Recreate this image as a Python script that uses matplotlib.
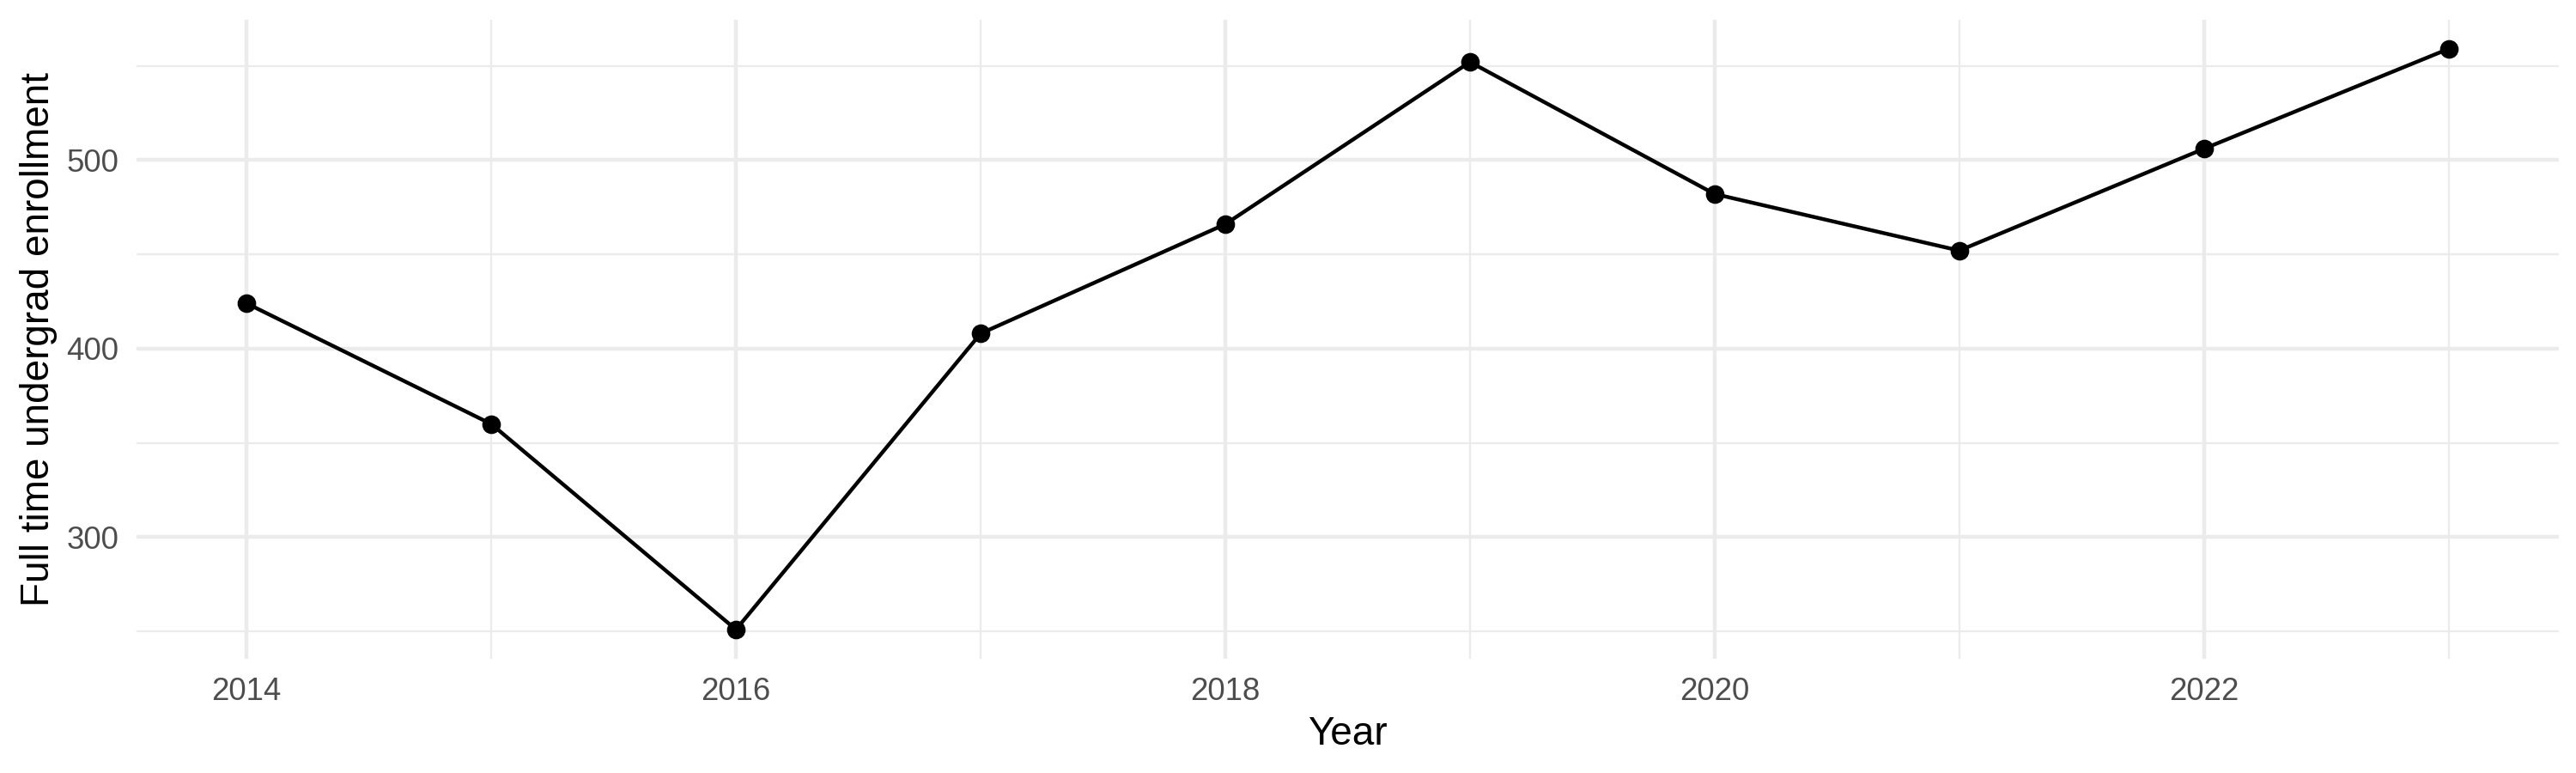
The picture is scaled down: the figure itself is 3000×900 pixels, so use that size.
import matplotlib
matplotlib.use("Agg")
import matplotlib.pyplot as plt
from matplotlib.ticker import MultipleLocator

years = [2014, 2015, 2016, 2017, 2018, 2019, 2020, 2021, 2022, 2023]
enrollment = [424, 360, 251, 408, 466, 552, 482, 452, 506, 559]
x_ticks = [2014, 2016, 2018, 2020, 2022]
y_ticks = [300, 400, 500]

plt.rcParams['font.family'] = ['Liberation Sans', 'DejaVu Sans']

fig = plt.figure(figsize=(10, 3), dpi=300)
ax = fig.add_axes([0.053, 0.148, 0.9403, 0.8264])

ax.plot(years, enrollment, color='black', linewidth=1.07, zorder=3)
ax.plot(years, enrollment, 'o', color='black', markersize=4.2, zorder=4)

span_x = max(years) - min(years)
ax.set_xlim(min(years) - 0.05 * span_x, max(years) + 0.05 * span_x)
span_y = max(enrollment) - min(enrollment)
ax.set_ylim(min(enrollment) - 0.05 * span_y, max(enrollment) + 0.05 * span_y)

ax.set_xticks(x_ticks)
ax.set_yticks(y_ticks)
ax.xaxis.set_minor_locator(MultipleLocator(1))
ax.yaxis.set_minor_locator(MultipleLocator(50))

ax.grid(which='major', color='#EBEBEB', linewidth=1.07)
ax.grid(which='minor', color='#EBEBEB', linewidth=0.53)
ax.set_axisbelow(True)

for s in ax.spines.values():
    s.set_visible(False)
ax.tick_params(which='both', length=0)
ax.tick_params(axis='both', labelsize=8.8, labelcolor='#4D4D4D')
ax.tick_params(axis='x', pad=5)
ax.tick_params(axis='y', pad=5)

ax.set_xlabel('Year', fontsize=11, color='black', labelpad=2.5)
ax.set_ylabel('Full time undergrad enrollment', fontsize=11, color='black', labelpad=2.5)

fig.savefig('out.png', dpi=300, facecolor='white')
